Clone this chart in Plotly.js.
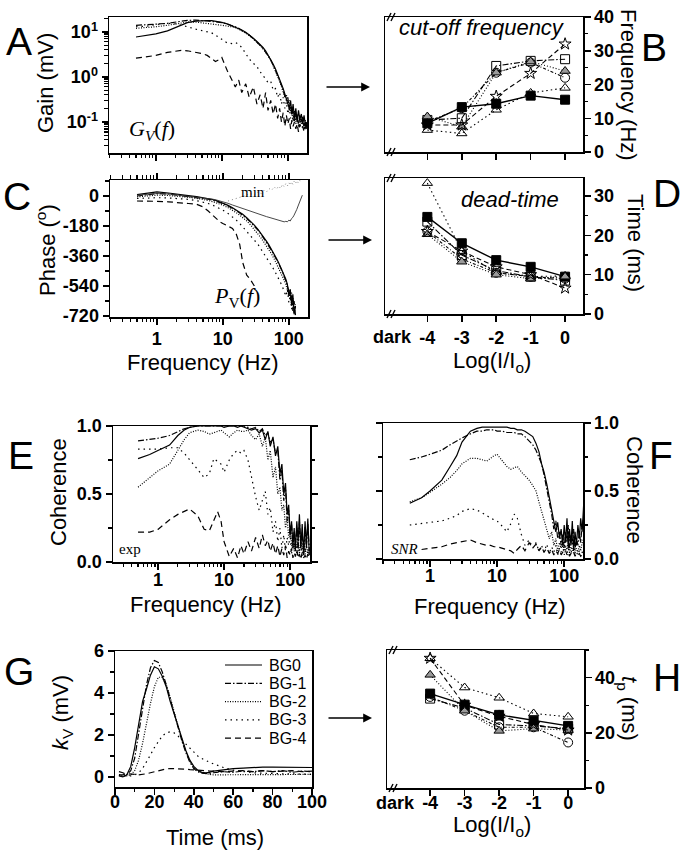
<!DOCTYPE html>
<html><head><meta charset="utf-8">
<script src="https://cdn.plot.ly/plotly-3.0.1.min.js"></script>
<style>html,body{margin:0;padding:0;background:#fff;}#chart{width:684px;height:853px;}</style>
</head><body><div id="chart"></div>
<script>
// ---------------- DATA ----------------
const FREQ = [0.5,0.75,1,1.5,2,2.5,3,4,5,6,7,8,9,10,12,14,16,18,20,23,26,30,34,38,42,46,50,55,60,65,70,75,80,85,90,95,100,105,110,115,120,126,132,138,145,152,160,168,176,185,195];

// A: gain (mV)
const GAIN_BG0 = [7.7,8.3,9.0,10.5,12.5,14.5,16, 17.3,17.8,17.8,17.7,17.3,16.8,16.2, 15,13.8,12.8,11.8,11, 9.8,8.6,7.2,6.1,5.3,4.5,3.8,3.1, 2.5,1.9,1.5,1.15,0.9,0.72,0.55,0.42,0.33,0.28, 0.2,0.3,0.15,0.25,0.12,0.2,0.1,0.18,0.11,0.15, 0.09,0.14,0.08,0.1];
const GAIN_BG1 = [14,14.3,14.8,15.5,16.5,17.5,18, 18.2,18,17.5,17,16.8,16.5,16, 15,14,13,12,11, 9.8,8.5,7,6,5,4.3,3.6,3, 2.4,1.8,1.4,1.1,0.85,0.65,0.5,0.4,0.3,0.35, 0.18,0.25,0.14,0.2,0.1,0.17,0.12,0.09,0.14,0.1, 0.13,0.08,0.11,0.07];
const GAIN_BG2 = [12,12.3,13,14,15,16,16.5, 16.5,16,15.5,15,14.5,14.5,14, 13.5,13,12.5,11.5,10.5, 9.5,8.3,7,6,5,4.2,3.6,3, 2.4,1.8,1.4,1.0,0.8,0.6,0.45,0.35,0.4,0.25, 0.3,0.17,0.22,0.12,0.18,0.1,0.15,0.08,0.12,0.09, 0.12,0.07,0.1,0.08];
const GAIN_BG3 = [13,13.5,14.5,15.5,15,14,13, 11.5,10.5,10,9.5,8.5,7.5,6.8, 5.7,5.5,5.8,5.3,4.5, 3.3,2.5,2.0,1.7,1.3,1.1,0.9,0.75, 0.8,0.5,0.55,0.35,0.45,0.25,0.35,0.2,0.28,0.15, 0.22,0.12,0.18,0.1,0.15,0.09,0.13,0.08,0.12,0.09, 0.11,0.07,0.1,0.08];
const GAIN_BG4 = [2.6,2.8,3.0,3.5,3.8,3.9,3.8, 3.5,3.3,3.0,2.5,2.2,2.4,2.7, 1.4,0.9,0.6,0.85,0.45, 0.7,0.35,0.6,0.25,0.4,0.2,0.45,0.18, 0.3,0.15,0.25,0.12,0.2,0.1,0.16,0.08,0.14,0.09, 0.12,0.07,0.11,0.08,0.1,0.07,0.09,0.06,0.09,0.07, 0.08,0.06,0.08,0.065];

// C: phase (deg)
const PHASE_BG0 = [8,18,25,18,10,5,2, -4,-9,-15,-21,-28,-35,-42, -56,-70,-84,-98,-110, -130,-150,-175,-200,-225,-250,-272,-295, -322,-350,-375,-400,-425,-450,-475,-500,-530,-600, -560,-650,-590,-710,-660,null,null,null,null,null, null,null,null,null];
const PHASE_BG1 = [0,8,15,12,6,2,-2, -8,-13,-19,-25,-32,-39,-46, -60,-74,-88,-102,-115, -135,-155,-180,-205,-230,-255,-278,-300, -328,-355,-380,-405,-430,-455,-480,-510,-540,-570, -620,-580,-690,-630,-715,null,null,null,null,null, null,null,null,null];
const PHASE_BG2 = [-5,0,5,3,0,-4,-8, -14,-20,-27,-34,-41,-48,-55, -70,-85,-100,-115,-128, -150,-172,-200,-225,-252,-278,-300,-325, -350,-378,-405,-430,-455,-480,-505,-530,-565,-600, -560,-660,-610,-700,-650,null,null,null,null,null, null,null,null,null];
const PHASE_BG3 = [-15,-12,-10,-12,-15,-18,-20, -28,-35,-45,-55,-65,-75,-85, -105,-125,-145,-165,-185, -210,-235,-265,-290,-320,-345,-370,-395, -420,-445,-470,-495,-520,-545,-575,-600,-560,-640, -600,-680,-620,-700,-660,null,null,null,null,null, null,null,null,null];
const PHASE_BG4 = [-30,-30,-32,-35,-38,-40,-45, -50,-65,-90,-115,-140,-155,-165, -180,-195,-230,-290,-400, -475,-500,-540,null,null,null,null,null, null,null,null,null,null,null,null,null,null,null, null,null,null,null,null,null,null,null,null,null, null,null,null,null];
const PHASE_MIN = [5,10,15,12,6,2,0, -5,-9,-14,-19,-24,-29,-34, -44,-54,-62,-70,-77, -86,-94,-102,-108,-114,-119,-124,-128, -133,-138,-142,-146,-150,-153,-155,-152,-155,-145, -150,-135,-128,-115,-100,-80,-60,-35,-15,5, null,null,null,null];
const PHASE_MIN_OTHERS = [null,null,null,null,null,null,null, null,null,null,null,null,null,null, -30,-22,-15,-8,-5, 5,15,5,25,15,35,25,45, 35,55,40,60,45,70,55,75,60,80, 65,85,70,90,75,92,80,95,85,93, null,null,null,null];

// E: coherence (exp)
const COH_E_BG0 = [0.76,0.79,0.82,0.86,0.93,0.97,0.99, 1.0,1.0,1.0,1.0,1.0,1.0,0.99, 1.0,1.0,0.99,1.0,0.99, 0.98,0.97,0.98,0.95,0.97,0.9,0.96,0.85, 0.92,0.78,0.85,0.65,0.72,0.5,0.58,0.35,0.42,0.2, 0.3,0.12,0.25,0.08,0.3,0.15,0.35,0.1,0.28,0.05, 0.3,0.12,0.32,0.05];
const COH_E_BG1 = [0.89,0.9,0.91,0.93,0.96,0.98,0.99, 1.0,1.0,1.0,1.0,1.0,1.0,1.0, 1.0,1.0,1.0,1.0,1.0, 0.99,0.98,0.99,0.96,0.98,0.93,0.95,0.88, 0.9,0.8,0.82,0.6,0.68,0.45,0.55,0.3,0.38,0.18, 0.28,0.1,0.22,0.14,0.25,0.08,0.3,0.12,0.22,0.06, 0.26,0.1,0.28,0.08];
const COH_E_BG2 = [0.55,0.62,0.67,0.72,0.82,0.9,0.95, 0.97,0.96,0.94,0.95,0.96,0.97,0.95, 0.92,0.95,0.97,0.96,0.96, 0.97,0.93,0.9,0.94,0.85,0.92,0.75,0.82, 0.62,0.7,0.5,0.55,0.38,0.42,0.25,0.32,0.18,0.25, 0.12,0.2,0.08,0.15,0.1,0.18,0.06,0.14,0.09,0.16, 0.05,0.12,0.08,0.1];
const COH_E_BG3 = [0.83,0.83,0.83,0.84,0.84,0.8,0.75, 0.68,0.62,0.65,0.76,0.74,0.72,0.66, 0.75,0.8,0.82,0.8,0.82, 0.75,0.62,0.48,0.38,0.45,0.52,0.35,0.4, 0.22,0.3,0.15,0.25,0.1,0.2,0.08,0.18,0.12,0.2, 0.06,0.15,0.1,0.18,0.05,0.14,0.08,0.12,0.04,0.1, 0.07,0.12,0.05,0.08];
const COH_E_BG4 = [0.22,0.22,0.24,0.31,0.35,0.37,0.39, 0.34,0.24,0.23,0.3,0.37,0.3,0.15, 0.04,0.1,0.03,0.12,0.06, 0.15,0.08,0.18,0.1,0.2,0.12,0.16,0.08, 0.14,0.06,0.12,0.04,0.1,0.05,0.12,0.03,0.08,0.05, 0.1,0.03,0.07,0.04,0.09,0.03,0.06,0.02,0.07,0.03, 0.05,0.02,0.06,0.03];

// F: coherence (SNR)
const COH_F_BG0 = [0.41,0.45,0.5,0.58,0.68,0.76,0.86, 0.94,0.96,0.97,0.97,0.97,0.97,0.97, 0.97,0.97,0.96,0.96,0.95, 0.95,0.94,0.92,0.9,0.85,0.79,0.7,0.64, 0.55,0.45,0.35,0.28,0.2,0.27,0.15,0.22,0.1,0.25, 0.12,0.3,0.08,0.22,0.1,0.28,0.06,0.2,0.1,0.25, 0.15,0.3,0.2,0.4];
const COH_F_BG1 = [0.73,0.75,0.77,0.8,0.84,0.87,0.89, 0.92,0.94,0.94,0.95,0.95,0.95,0.94, 0.94,0.93,0.93,0.93,0.92, 0.92,0.9,0.87,0.84,0.8,0.75,0.7,0.62, 0.52,0.43,0.33,0.22,0.28,0.15,0.2,0.1,0.18,0.08, 0.2,0.12,0.25,0.08,0.18,0.1,0.22,0.07,0.15,0.1, 0.2,0.12,0.25,0.3];
const COH_F_BG2 = [0.42,0.45,0.49,0.55,0.6,0.65,0.7, 0.74,0.74,0.73,0.72,0.74,0.76,0.77, 0.72,0.68,0.66,0.67,0.68, 0.64,0.61,0.58,0.54,0.5,0.42,0.35,0.28, 0.2,0.15,0.2,0.1,0.15,0.06,0.12,0.08,0.14,0.05, 0.1,0.07,0.12,0.04,0.09,0.06,0.1,0.04,0.08,0.05, 0.1,0.06,0.12,0.15];
const COH_F_BG3 = [0.25,0.26,0.27,0.28,0.3,0.32,0.35, 0.37,0.36,0.34,0.32,0.3,0.29,0.28, 0.24,0.2,0.26,0.33,0.3, 0.18,0.1,0.14,0.08,0.12,0.06,0.1,0.05, 0.11,0.04,0.09,0.05,0.1,0.03,0.08,0.05,0.1,0.03, 0.07,0.04,0.08,0.03,0.06,0.04,0.07,0.03,0.05,0.03, 0.06,0.04,0.05,0.03];
const COH_F_BG4 = [null,0.07,0.08,0.09,0.11,0.12,0.13, 0.14,0.12,0.11,0.1,0.1,0.09,0.09, 0.08,0.07,0.06,0.04,0.07, 0.1,0.06,0.12,0.08,0.11,0.06,0.09,0.05, 0.08,0.04,0.07,0.03,0.06,0.04,0.07,0.03,0.05,0.04, 0.06,0.03,0.05,0.02,0.04,0.03,0.05,0.02,0.04,0.03, 0.04,0.02,0.03,0.02];

// G: impulse responses k_V (mV) vs time (ms)
const TIME = [2,4,6,8,10,12,14,16,18,20,22,24,26,28,30,32,34,36,38,40,42,44,46,48,50,55,60,65,70,75,80,85,90,95,100];
const KV_BG0 = [0.05,0.0,0.1,0.5,1.4,2.5,3.6,4.2,4.85,5.25,5.15,4.8,4.3,3.6,3.0,2.4,1.8,1.25,0.8,0.5,0.32,0.22,0.2,0.22,0.28,0.35,0.4,0.42,0.45,0.47,0.47,0.46,0.45,0.45,0.45];
const KV_BG1 = [0.25,0.2,0.1,0.3,0.9,2.0,3.3,4.4,5.2,5.55,5.45,5.0,4.4,3.7,3.0,2.3,1.7,1.15,0.7,0.4,0.25,0.18,0.15,0.15,0.2,0.25,0.22,0.28,0.25,0.3,0.25,0.3,0.22,0.28,0.25];
const KV_BG2 = [0.1,0.05,0.05,0.1,0.3,0.8,1.6,2.6,3.5,4.3,4.75,4.75,4.4,3.8,3.1,2.4,1.75,1.2,0.75,0.45,0.3,0.2,0.15,0.12,0.1,0.1,0.1,0.12,0.1,0.12,0.1,0.12,0.1,0.1,0.12];
const KV_BG3 = [0.1,0.05,0.05,0.05,0.1,0.2,0.4,0.7,1.05,1.4,1.7,1.95,2.1,2.15,2.1,1.95,1.75,1.55,1.35,1.15,1.0,0.88,0.78,0.7,0.62,0.45,0.32,0.25,0.2,0.18,0.15,0.15,0.15,0.12,0.12];
const KV_BG4 = [0.1,0.1,0.15,0.15,0.12,0.1,0.12,0.15,0.2,0.25,0.3,0.35,0.38,0.4,0.4,0.4,0.38,0.37,0.35,0.33,0.32,0.3,0.3,0.28,0.28,0.25,0.28,0.3,0.25,0.3,0.25,0.28,0.3,0.25,0.28];
const SERIES_NAMES = ['BG0','BG-1','BG-2','BG-3','BG-4'];

// B, D, H: parameters vs light level
const LOG_LIGHT = [-4,-3,-2,-1,0];
const LIGHT_TICKS = ['-4','-3','-2','-1','0'];
const CUT_SQ_FILLED = [8.5,13.3,14.3,16.7,15.5];
const CUT_SQ_OPEN   = [9.5,10,25.5,27,27.5];
const CUT_CIRCLE    = [9,13,23.5,26.5,22];
const CUT_TRI_OPEN  = [6.5,5.5,12.5,17.5,19];
const CUT_TRI_GRAY  = [10.5,7.5,23.5,26.8,24];
const CUT_STAR      = [8,8,16.5,23.3,32];

const DEAD_SQ_FILLED = [24.7,18,13.7,12,9.5];
const DEAD_SQ_OPEN   = [23.5,15,11,9.5,8.5];
const DEAD_CIRCLE    = [21,14,10.5,9.5,9];
const DEAD_TRI_OPEN  = [33.3,16,10.5,9.5,9.7];
const DEAD_TRI_GRAY  = [20.3,13.3,10,9,9.5];
const DEAD_STAR      = [21,16,12,10,6.6];

const TP_SQ_FILLED = [34.2,30.2,26.5,24.4,22.5];
const TP_SQ_OPEN   = [32.4,29,23,22.5,21.5];
const TP_CIRCLE    = [33,28,22,22,16.5];
const TP_TRI_OPEN  = [47,36.4,32.7,27,25.8];
const TP_TRI_GRAY  = [41,28,20.7,21.5,21];
const TP_STAR      = [47,30,26,23,21];

// ---------------- STYLE / LAYOUT ----------------
const W = 684, H = 853;
const SANS = 'Liberation Sans, Arial, Helvetica, sans-serif';
const SERIF = 'Liberation Serif, Times New Roman, serif';
const px = v => v / W;
const py = v => 1 - v / H;
const xdom = (a, b) => [a / W, b / W];
const ydom = (t, b) => [1 - b / H, 1 - t / H];

const DASHES = ['solid', '6px,2px,1.5px,2px', '1px,1.5px', '1.5px,4px', '6px,4px'];

function logMinor(lo, hi) {
  const out = [];
  for (let e = lo; e <= hi; e++) for (let d = 2; d <= 9; d++) out.push(d * Math.pow(10, e));
  return out;
}
const tickFont = {family: SANS, size: 18, color: 'black', weight: 'bold'};
const minorBase = {ticks: 'outside', ticklen: 3.5, tickwidth: 1.2, tickcolor: 'black', showgrid: false};
function axis(o) {
  return Object.assign({showline: true, linecolor: 'black', linewidth: 1.5, ticks: 'outside', ticklen: 6,
    tickwidth: 1.5, tickcolor: 'black', showgrid: false, zeroline: false, automargin: false,
    tickfont: tickFont, fixedrange: true}, o);
}

const traces = [];
function curves(xs, ys, xa, ya) {
  ys.forEach((y, i) => {
    traces.push({x: xs, y: y, xaxis: xa, yaxis: ya, mode: 'lines', name: SERIES_NAMES[i],
      showlegend: false, line: {color: 'black', width: 1.2, dash: DASHES[i]}, hoverinfo: 'skip'});
  });
}
curves(FREQ, [GAIN_BG0, GAIN_BG1, GAIN_BG2, GAIN_BG3, GAIN_BG4], 'x', 'y');
curves(FREQ, [PHASE_BG0, PHASE_BG1, PHASE_BG2, PHASE_BG3, PHASE_BG4], 'x3', 'y3');
traces.push({x: FREQ, y: PHASE_MIN, xaxis: 'x3', yaxis: 'y3', mode: 'lines', showlegend: false,
  line: {color: '#333', width: 0.9}});
traces.push({x: FREQ, y: PHASE_MIN_OTHERS, xaxis: 'x3', yaxis: 'y3', mode: 'lines', showlegend: false,
  line: {color: '#888', width: 1, dash: '1px,3px'}});
curves(FREQ, [COH_E_BG0, COH_E_BG1, COH_E_BG2, COH_E_BG3, COH_E_BG4], 'x5', 'y5');
curves(FREQ, [COH_F_BG0, COH_F_BG1, COH_F_BG2, COH_F_BG3, COH_F_BG4], 'x6', 'y6');
curves(TIME, [KV_BG0, KV_BG1, KV_BG2, KV_BG3, KV_BG4], 'x7', 'y7');

const MARKERS = [
  {symbol: 'square', color: 'black', dash: 'solid'},
  {symbol: 'square-open', color: 'black', dash: '6px,2px,1.5px,2px'},
  {symbol: 'circle-open', color: 'black', dash: '3px,2px,1px,2px'},
  {symbol: 'triangle-up-open', color: 'black', dash: '1.5px,3px'},
  {symbol: 'triangle-up', color: '#9a9a9a', dash: '1px,2px'},
  {symbol: 'star-open', color: 'black', dash: '5px,3px'}
];
function points(sets, xa, ya) {
  sets.forEach((y, i) => {
    const m = MARKERS[i];
    traces.push({x: LOG_LIGHT, y: y, xaxis: xa, yaxis: ya, mode: 'lines+markers', showlegend: false,
      line: {color: 'black', width: i === 0 ? 1.4 : 1.1, dash: m.dash},
      marker: {symbol: m.symbol, size: 9, color: m.color, line: {color: 'black', width: 1}}, cliponaxis: false});
  });
}
points([CUT_SQ_FILLED, CUT_SQ_OPEN, CUT_CIRCLE, CUT_TRI_OPEN, CUT_TRI_GRAY, CUT_STAR], 'x2', 'y2');
points([DEAD_SQ_FILLED, DEAD_SQ_OPEN, DEAD_CIRCLE, DEAD_TRI_OPEN, DEAD_TRI_GRAY, DEAD_STAR], 'x4', 'y4');
points([TP_SQ_FILLED, TP_SQ_OPEN, TP_CIRCLE, TP_TRI_OPEN, TP_TRI_GRAY, TP_STAR], 'x8', 'y8');

const logX = {type: 'log', tickmode: 'array', tickvals: [1, 10, 100], ticktext: ['1', '10', '100'],
  minor: Object.assign({}, minorBase, {tickmode: 'array', tickvals: logMinor(-1, 2)})};
const lightX = {tickmode: 'array', tickvals: LOG_LIGHT, ticktext: LIGHT_TICKS, mirror: true};
const cohY = {range: [0, 1], tickmode: 'array', tickvals: [0, 0.5, 1], ticktext: ['0.0', '0.5', '1.0'], mirror: 'ticks',
  minor: Object.assign({}, minorBase, {tickmode: 'array', tickvals: [0.25, 0.75]})};

const layout = {
  width: W, height: H, margin: {l: 0, r: 0, t: 0, b: 0},
  paper_bgcolor: 'white', plot_bgcolor: 'rgba(0,0,0,0)',
  font: {family: SANS, color: 'black'},
  showlegend: false,
  // A
  xaxis: axis(Object.assign({}, logX, {domain: xdom(109, 307), anchor: 'y', range: [-0.71, 2.29], showticklabels: false, mirror: true})),
  yaxis: axis({type: 'log', domain: ydom(17, 153), anchor: 'x', range: [-1.69, 1.33], tickmode: 'array',
    tickvals: [0.1, 1, 10], ticktext: ['10<sup>-1</sup>', '10<sup>0</sup>', '10<sup>1</sup>'], mirror: true,
    minor: Object.assign({}, minorBase, {tickmode: 'array', tickvals: logMinor(-2, 1)})}),
  // B
  xaxis2: axis(Object.assign({}, lightX, {domain: xdom(385, 583), anchor: 'y2', range: [-5.23, 0.52], showticklabels: false})),
  yaxis2: axis({domain: ydom(17, 152), anchor: 'x2', side: 'right', range: [0, 40], tickmode: 'array',
    tickvals: [0, 10, 20, 30, 40], ticktext: ['0', '10', '20', '30', '40'], mirror: true,
    minor: Object.assign({}, minorBase, {tickmode: 'array', tickvals: [5, 15, 25, 35]})}),
  // C
  xaxis3: axis(Object.assign({}, logX, {domain: xdom(110, 308), anchor: 'y3', range: [-0.71, 2.29], mirror: 'ticks', ticklabelstandoff: -1})),
  yaxis3: axis({domain: ydom(180, 317), anchor: 'x3', range: [-726, 96], tickmode: 'array',
    tickvals: [0, -180, -360, -540, -720], ticktext: ['0', '-180', '-360', '-540', '-720'], mirror: true,
    minor: Object.assign({}, minorBase, {tickmode: 'array', tickvals: [90, -90, -270, -450, -630]})}),
  // D
  xaxis4: axis(Object.assign({}, lightX, {domain: xdom(385, 583), anchor: 'y4', range: [-5.23, 0.52], ticklabelstandoff: 1})),
  yaxis4: axis({domain: ydom(178, 314), anchor: 'x4', side: 'right', range: [0, 34.6], tickmode: 'array',
    tickvals: [0, 10, 20, 30], ticktext: ['0', '10', '20', '30'], mirror: true,
    minor: Object.assign({}, minorBase, {tickmode: 'array', tickvals: [5, 15, 25]})}),
  // E
  xaxis5: axis(Object.assign({}, logX, {domain: xdom(113, 310), anchor: 'y5', range: [-0.68, 2.30], mirror: true, ticklabelstandoff: -5})),
  yaxis5: axis(Object.assign({}, cohY, {domain: ydom(426, 562), anchor: 'x5'})),
  // F
  xaxis6: axis(Object.assign({}, logX, {domain: xdom(383, 583), anchor: 'y6', range: [-0.70, 2.28], mirror: true, ticklabelstandoff: -6})),
  yaxis6: axis(Object.assign({}, cohY, {domain: ydom(423, 559), anchor: 'x6', side: 'right'})),
  // G
  xaxis7: axis({domain: xdom(115, 312), anchor: 'y7', range: [0, 100], tickmode: 'array',
    tickvals: [0, 20, 40, 60, 80, 100], ticktext: ['0', '20', '40', '60', '80', '100'], mirror: true, ticklabelstandoff: -8,
    minor: Object.assign({}, minorBase, {tickmode: 'array', tickvals: [10, 30, 50, 70, 90]})}),
  yaxis7: axis({domain: ydom(651, 787), anchor: 'x7', range: [-0.48, 6], tickmode: 'array',
    tickvals: [0, 2, 4, 6], ticktext: ['0', '2', '4', '6'], mirror: true,
    minor: Object.assign({}, minorBase, {tickmode: 'array', tickvals: [1, 3, 5]})}),
  // H
  xaxis8: axis(Object.assign({}, lightX, {domain: xdom(387, 584), anchor: 'y8', range: [-5.25, 0.46], ticklabelstandoff: -8})),
  yaxis8: axis({domain: ydom(650, 788), anchor: 'x8', side: 'right', range: [0, 50], tickmode: 'array',
    tickvals: [0, 20, 40], ticktext: ['0', '20', '40'], mirror: true,
    minor: Object.assign({}, minorBase, {tickmode: 'array', tickvals: [10, 30, 50]})})
};

const ann = [];
const shapes = [];
function label(text, x, y, size, opts) {
  ann.push(Object.assign({text: text, x: px(x), y: py(y), xref: 'paper', yref: 'paper', showarrow: false,
    xanchor: 'center', yanchor: 'middle', font: {family: SANS, size: size, color: 'black'}}, opts || {}));
}
// axis titles
label('Gain (mV)', 45, 83, 22, {textangle: -90});
label('Phase (<sup>o</sup>)', 46, 250, 22, {textangle: -90});
label('Frequency (Hz)', 203, 362, 22);
label('Log(I/I<sub>o</sub>)', 492, 362, 22);
label('Coherence', 58, 492, 22, {textangle: -90});
label('Frequency (Hz)', 206, 604, 22);
label('Frequency (Hz)', 490, 606, 22);
label('<i>k</i><sub>V</sub> (mV)', 62, 713, 22, {textangle: -90});
label('Time (ms)', 215, 837, 22);
label('Log(I/I<sub>o</sub>)', 492, 826, 22);
label('Frequency (Hz)', 628, 85, 22, {textangle: 90});
label('Time (ms)', 635, 243, 22, {textangle: 90});
label('Coherence', 635, 490, 22, {textangle: 90});
label('<i>t</i><sub>p</sub> (ms)', 628, 708, 22, {textangle: 90});
// panel letters
[['A', 19, 42], ['B', 654, 47], ['C', 17, 196], ['D', 667, 194], ['E', 21, 455], ['F', 661, 455], ['G', 19, 671], ['H', 667, 677]]
  .forEach(l => label(l[0], l[1], l[2], 39));
// in-panel labels
label('<i>cut-off frequency</i>', 482, 27, 22);
label('<i>dead-time</i>', 510, 199, 22);
label('<i>G</i><sub><i>V</i></sub>(<i>f</i>)', 152, 130, 22, {font: {family: SERIF, size: 22, color: 'black'}});
label('<i>P</i><sub>V</sub>(<i>f</i>)', 237, 297, 22, {font: {family: SERIF, size: 22, color: 'black'}});
label('min', 253, 192, 15, {font: {family: SERIF, size: 15, color: 'black'}});
label('exp', 130, 549, 15, {font: {family: SERIF, size: 15, color: 'black'}});
label('<i>SNR</i>', 405, 549, 15, {font: {family: SERIF, size: 15, color: 'black'}});
// "dark" labels
ann.push({text: 'dark', x: -5, xref: 'x4', y: py(337), yref: 'paper', showarrow: false, xanchor: 'center', yanchor: 'middle', font: tickFont});
ann.push({text: 'dark', x: -5, xref: 'x8', y: py(803), yref: 'paper', showarrow: false, xanchor: 'center', yanchor: 'middle', font: tickFont});
// axis break marks (two short slanted strokes)
[[389, 17], [389, 152], [389, 178], [389, 314], [391, 650], [391, 788]].forEach(b => {
  [0, 4].forEach(d => shapes.push({type: 'line', xref: 'paper', yref: 'paper',
    x0: px(b[0] + d - 2), y0: py(b[1] + 4), x1: px(b[0] + d + 2), y1: py(b[1] - 4),
    line: {color: 'black', width: 1.4}}));
});
// legend of panel G (drawn by hand to match the compact row spacing)
SERIES_NAMES.forEach((n, i) => {
  const yy = 665 + i * 18.3;
  shapes.push({type: 'line', xref: 'paper', yref: 'paper', x0: px(225), x1: px(262), y0: py(yy), y1: py(yy),
    line: {color: 'black', width: 1.2, dash: DASHES[i]}});
  label(n, 267, yy, 16, {xanchor: 'left'});
});
// arrows
[[370, 87], [372, 240], [372, 718]].forEach(a =>
  ann.push({text: '', x: px(a[0]), y: py(a[1]), xref: 'paper', yref: 'paper', showarrow: true, ax: -45, ay: 0,
    arrowhead: 2, arrowsize: 1.1, arrowwidth: 1.6, arrowcolor: 'black', standoff: 0}));
layout.annotations = ann;
layout.shapes = shapes;

Plotly.newPlot('chart', traces, layout, {displayModeBar: false, staticPlot: true});
</script>
</body></html>
